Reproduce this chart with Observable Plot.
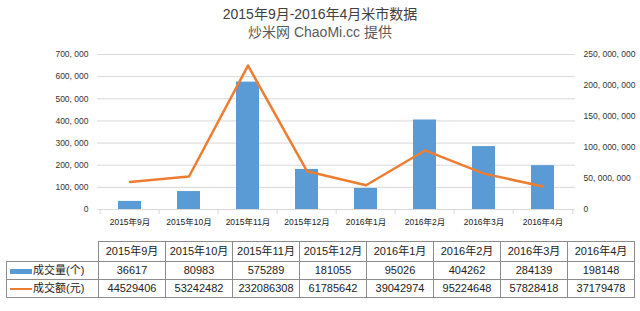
<!DOCTYPE html>
<html><head><meta charset="utf-8">
<script src="https://cdn.jsdelivr.net/npm/d3@7"></script>
<script src="https://cdn.jsdelivr.net/npm/@observablehq/plot@0.6"></script>
<style>
body{margin:0;background:#fff;width:640px;height:311px;position:relative;overflow:hidden;font-family:"Liberation Sans","Noto Sans CJK SC",sans-serif;}
#title{position:absolute;top:5px;left:0;width:640px;text-align:center;font-size:14px;color:#404040;line-height:18px;}
#sub{position:absolute;top:23px;left:0;width:640px;text-align:center;font-size:14px;color:#595959;line-height:18px;}
#chart{position:absolute;top:40px;left:0;}
#tbl{position:absolute;left:6px;top:241px;border-collapse:collapse;font-size:11px;color:#222;table-layout:fixed;}
#tbl td{border:1px solid #8c8c8c;height:17px;padding:0;text-align:center;white-space:nowrap;line-height:17px;}
#tbl tr:first-child td{height:19px;}
#tbl td.blank{border-top:none;border-left:none;}
#tbl td.lab{text-align:left;padding-left:3px;}
.sw{display:inline-block;width:22px;vertical-align:middle;margin-right:1px;}
</style></head>
<body>
<div id="title"></div>
<div id="sub"></div>
<div id="chart"></div>
<table id="tbl"></table>
<script>
const titleText = "2015年9月-2016年4月米市数据";
const subText = "炒米网 ChaoMi.cc 提供";
const months = ["2015年9月","2015年10月","2015年11月","2015年12月","2016年1月","2016年2月","2016年3月","2016年4月"];
const volume = [36617, 80983, 575289, 181055, 95026, 404262, 284139, 198148];
const amount = [44529406, 53242482, 232086308, 61785642, 39042974, 95224648, 57828418, 37179478];
const leftTicks = [0, 100000, 200000, 300000, 400000, 500000, 600000, 700000];
const rightTicks = [0, 50000000, 100000000, 150000000, 200000000, 250000000];
const seriesNames = ["成交量(个)", "成交额(元)"];
const colors = ["#5B9BD5", "#ED7D31"];

document.getElementById("title").textContent = titleText;
document.getElementById("sub").textContent = subText;

const leftMax = leftTicks[leftTicks.length - 1];
const rightMax = rightTicks[rightTicks.length - 1];
const k = leftMax / rightMax;
const data = months.map((m, i) => ({month: m, volume: volume[i], amount: amount[i]}));
const fmt = v => d3.format(",")(Math.round(v)).replace(/,/g, ", ");

const W = 640, H = 195, ML = 97, MR = 65;
const bw = (W - ML - MR) / months.length;

const chart = Plot.plot({
  width: W, height: H,
  marginLeft: ML, marginRight: MR, marginTop: 14, marginBottom: 26,
  style: {fontFamily: '"Liberation Sans","Noto Sans CJK SC",sans-serif', fontSize: "8.5px", color: "#333"},
  x: {domain: months, padding: 0, label: null},
  y: {domain: [0, leftMax], label: null},
  marks: [
    Plot.gridY(leftTicks, {stroke: "#d9d9d9", strokeOpacity: 1}),
    Plot.axisY(leftTicks, {anchor: "left", tickSize: 0, tickPadding: 9, tickFormat: fmt, label: null}),
    Plot.axisY(rightTicks.map(v => v * k), {anchor: "right", tickSize: 0, tickPadding: 8, tickFormat: d => fmt(d / k), label: null}),
    Plot.barY(data, {x: "month", y: "volume", fill: colors[0], insetLeft: 18, insetRight: 18}),
    Plot.ruleY([0], {stroke: "#d9d9d9"}),
    Plot.axisX({tickSize: 0, tickPadding: 9, fill: "#222", label: null}),
    Plot.axisX(months, {tickSize: 5, tickFormat: () => "", dx: -bw / 2, stroke: "#d9d9d9", label: null}),
    Plot.axisX([months[months.length - 1]], {tickSize: 5, tickFormat: () => "", dx: bw / 2, stroke: "#d9d9d9", label: null}),
    Plot.lineY(data, {x: "month", y: d => d.amount * k, stroke: colors[1], strokeWidth: 2.5})
  ]
});
document.getElementById("chart").appendChild(chart);

// data table
const tbl = document.getElementById("tbl");
const colg = document.createElement("colgroup");
[92, ...months.map(() => 67)].forEach(w => { const c = document.createElement("col"); c.style.width = w + "px"; colg.appendChild(c); });
tbl.appendChild(colg);
const hr = tbl.insertRow();
const c0 = hr.insertCell(); c0.className = "blank";
months.forEach(m => { hr.insertCell().textContent = m; });
[volume, amount].forEach((arr, si) => {
  const r = tbl.insertRow();
  const lc = r.insertCell(); lc.className = "lab";
  const sw = document.createElement("span"); sw.className = "sw";
  sw.style.height = si === 0 ? "5px" : "2px";
  sw.style.background = colors[si];
  lc.appendChild(sw);
  lc.appendChild(document.createTextNode(seriesNames[si]));
  arr.forEach(v => { r.insertCell().textContent = String(v); });
});
</script>
</body></html>
